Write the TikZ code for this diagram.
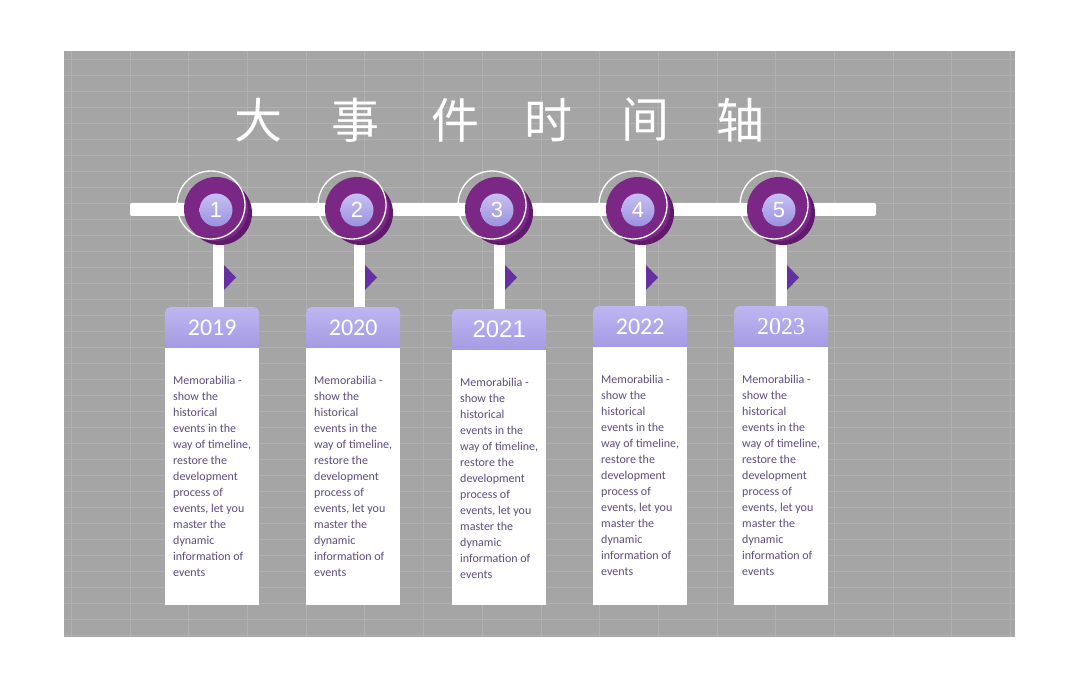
\documentclass[tikz,border=0pt]{standalone}
\usepackage{fontspec}
\setmainfont{Carlito}
\newfontfamily\cjk{Noto Sans CJK SC}
\newfontfamily\arialf{Liberation Sans}
\newfontfamily\timesf{Liberation Serif}
\definecolor{bg}{HTML}{A5A5A5}
\definecolor{gridc}{HTML}{B1B1B1}
\definecolor{diskc}{HTML}{7A2785}
\definecolor{shadc}{HTML}{5F1A6B}
\definecolor{lavtop}{HTML}{C6C0F4}
\definecolor{lavbot}{HTML}{9C91E0}
\definecolor{hdrtop}{HTML}{BDB6F0}
\definecolor{hdrbot}{HTML}{A49AE4}
\definecolor{tric}{HTML}{6530A0}
\definecolor{txtc}{HTML}{5C4D7D}
\tikzset{
  gridline/.style={draw=gridc, line width=0.7pt},
  bar/.style={fill=white, rounded corners=2pt, minimum width=746pt, minimum height=13pt, inner sep=0pt},
  stemline/.style={draw=white, line width=11pt},
  disk/.style={circle, fill=diskc, minimum size=64pt, inner sep=0pt},
  numc/.style={circle, top color=lavtop, bottom color=lavbot, minimum size=33pt, inner sep=0pt, text=white, font=\arialf\fontsize{22}{22}\selectfont},
  hdr/.style={rounded corners=5pt, top color=hdrtop, bottom color=hdrbot, minimum width=94pt, minimum height=41pt, inner sep=0pt, anchor=north west, text=white},
  bodybox/.style={fill=white, minimum width=94pt, inner sep=0pt, anchor=north west},
  bodytext/.style={anchor=north west, align=left, inner sep=0pt, text=txtc, font=\fontsize{12}{16}\selectfont},
  titlech/.style={text=white, font=\cjk\fontsize{48}{48}\selectfont, inner sep=0pt}
}
\begin{document}
\begin{tikzpicture}[x=1pt,y=-1pt]
\useasboundingbox (0,0) rectangle (1080,695);
\fill[white] (0,0) rectangle (1080,695);
\fill[bg] (64,51) rectangle (1015,637);
\foreach \k in {0,...,36} {\draw[gridline] (64,59+\k*16) -- (1015,59+\k*16);}
\foreach \k in {0,...,16} {\draw[gridline] (71.3+\k*58.7,51) -- (71.3+\k*58.7,637);}
% title
\node[titlech] (t1) at (258,120) {大};
\node[titlech] (t2) at (355,120) {事};
\node[titlech] (t3) at (455,120) {件};
\node[titlech] (t4) at (548,120) {时};
\node[titlech] (t5) at (645,120) {间};
\node[titlech] (t6) at (740,120) {轴};
% bar
\node[bar] (bar) at (503,209.5) {};
\foreach \cx/\cl/\ct/\yr/\yf [count=\i] in {216/165/307/2019/\normalfont, 357/306/307/2020/\normalfont, 497/452/309/2021/\arialf, 638/593/306/2022/\normalfont, 779/734/306/2023/\timesf} {
  % card
  \fill[hdrbot] (\cl,\ct+30) rectangle (\cl+94,\ct+41);
  \node[hdr] (h\i) at (\cl,\ct) {\yf\fontsize{24}{24}\selectfont \yr};
  \node[bodybox, minimum height=605-\ct-41] (b\i) at (\cl,\ct+41) {};
  \node[bodytext] (x\i) at (\cl+8,\ct+69) {Memorabilia -\\show the\\historical\\events in the\\way of timeline,\\restore the\\development\\process of\\events, let you\\master the\\dynamic\\information of\\events};
  % circle
  \coordinate (c\i) at (\cx,209);
  \draw[stemline] ([xshift=2.5pt]c\i) -- ([xshift=2.5pt]c\i |- h\i.north);
  \fill[tric] (\cx+8,265) -- (\cx+20,277.5) -- (\cx+8,290) -- cycle;
  \fill[shadc] (\cx+4,213) circle (32);
  \node[disk] (d\i) at (c\i) {};
  \draw[white, line width=1.3pt] (\cx-5,205) circle (34);
  \node[numc] (n\i) at (\cx,210) {\i};
}
\end{tikzpicture}
\end{document}
